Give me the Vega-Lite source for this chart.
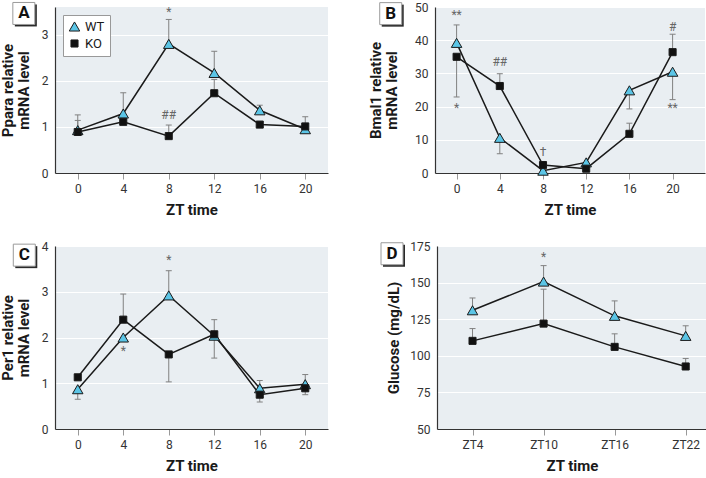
{
  "$schema": "https://vega.github.io/schema/vega-lite/v6.json",
  "padding": 0,
  "background": "white",
  "datasets": {
    "pts": [
      {"p":"A","t":0,"g":"WT","v":0.93,"e":1.26},
      {"p":"A","t":4,"g":"WT","v":1.29,"e":1.74},
      {"p":"A","t":8,"g":"WT","v":2.80,"e":3.33},
      {"p":"A","t":12,"g":"WT","v":2.17,"e":2.64},
      {"p":"A","t":16,"g":"WT","v":1.36,"e":1.47},
      {"p":"A","t":20,"g":"WT","v":0.95,"e":null},
      {"p":"A","t":0,"g":"KO","v":0.89,"e":1.14},
      {"p":"A","t":4,"g":"KO","v":1.11,"e":null},
      {"p":"A","t":8,"g":"KO","v":0.80,"e":1.04},
      {"p":"A","t":12,"g":"KO","v":1.73,"e":2.03},
      {"p":"A","t":16,"g":"KO","v":1.05,"e":null},
      {"p":"A","t":20,"g":"KO","v":1.01,"e":1.22},
      {"p":"B","t":0,"g":"WT","v":39.2,"e":44.6},
      {"p":"B","t":4,"g":"WT","v":10.6,"e":5.8},
      {"p":"B","t":8,"g":"WT","v":0.7,"e":null},
      {"p":"B","t":12,"g":"WT","v":3.2,"e":null},
      {"p":"B","t":16,"g":"WT","v":24.9,"e":19.3},
      {"p":"B","t":20,"g":"WT","v":30.5,"e":22.1},
      {"p":"B","t":0,"g":"KO","v":35.0,"e":22.9},
      {"p":"B","t":4,"g":"KO","v":26.2,"e":29.9},
      {"p":"B","t":8,"g":"KO","v":2.4,"e":null},
      {"p":"B","t":12,"g":"KO","v":1.3,"e":null},
      {"p":"B","t":16,"g":"KO","v":11.8,"e":15.0},
      {"p":"B","t":20,"g":"KO","v":36.4,"e":41.8},
      {"p":"C","t":0,"g":"WT","v":0.87,"e":0.65},
      {"p":"C","t":4,"g":"WT","v":2.0,"e":null},
      {"p":"C","t":8,"g":"WT","v":2.92,"e":3.46},
      {"p":"C","t":12,"g":"WT","v":2.04,"e":1.55},
      {"p":"C","t":16,"g":"WT","v":0.89,"e":1.06},
      {"p":"C","t":20,"g":"WT","v":0.98,"e":1.19},
      {"p":"C","t":0,"g":"KO","v":1.13,"e":null},
      {"p":"C","t":4,"g":"KO","v":2.39,"e":2.95},
      {"p":"C","t":8,"g":"KO","v":1.63,"e":1.03},
      {"p":"C","t":12,"g":"KO","v":2.07,"e":2.39},
      {"p":"C","t":16,"g":"KO","v":0.75,"e":0.59},
      {"p":"C","t":20,"g":"KO","v":0.89,"e":0.75},
      {"p":"D","t":4,"g":"WT","v":131.1,"e":139.5},
      {"p":"D","t":10,"g":"WT","v":150.7,"e":161.6},
      {"p":"D","t":16,"g":"WT","v":127.3,"e":137.5},
      {"p":"D","t":22,"g":"WT","v":113.6,"e":120.5},
      {"p":"D","t":4,"g":"KO","v":110.2,"e":118.6},
      {"p":"D","t":10,"g":"KO","v":122.0,"e":145.5},
      {"p":"D","t":16,"g":"KO","v":106.1,"e":115.0},
      {"p":"D","t":22,"g":"KO","v":92.7,"e":98.2}
    ],
    "ann": [
      {"p":"A","t":8,"y":3.5,"s":"*"},
      {"p":"A","t":8,"y":1.25,"s":"##"},
      {"p":"B","t":0,"y":47.5,"s":"**"},
      {"p":"B","t":0,"y":19.6,"s":"*"},
      {"p":"B","t":4,"y":33.3,"s":"##"},
      {"p":"B","t":8,"y":6.4,"s":"†"},
      {"p":"B","t":20,"y":44.1,"s":"#"},
      {"p":"B","t":20,"y":19.6,"s":"**"},
      {"p":"C","t":8,"y":3.69,"s":"*"},
      {"p":"C","t":4,"y":1.71,"s":"*"},
      {"p":"D","t":10,"y":167.7,"s":"*"}
    ],
    "lab": [
      {"p":"A","t":-4.74,"y":3.46,"s":"A"},
      {"p":"B","t":-6.1,"y":48,"s":"B"},
      {"p":"C","t":-4.7,"y":3.8,"s":"C"},
      {"p":"D","t":-2.8,"y":169.7,"s":"D"}
    ]
  },
  "resolve": {"scale": {"color": "independent", "shape": "independent", "size": "independent"}},
  "spacing": 23,
  "vconcat": [
    {
      "resolve": {"scale": {"color": "independent", "shape": "independent", "size": "independent"}},
      "spacing": 40,
      "hconcat": [
        {
          "width": 273, "height": 166,
          "layer": [
            {"data":{"name":"pts"},"transform":[{"filter":"datum.p=='A' && isValid(datum.e)"}],
             "mark":{"type":"rule","color":"#808080","strokeWidth":1},
             "encoding":{
               "x":{"field":"t","type":"quantitative","scale":{"domain":[-2,22],"nice":false,"zero":false},"axis":{"values":[0,4,8,12,16,20],"title":"ZT time"}},
               "y":{"field":"v","type":"quantitative","scale":{"domain":[0,3.6],"nice":false},"axis":{"values":[0,1,2,3],"title":["Ppara relative","mRNA level"],"minExtent":14,"maxExtent":14,"titlePadding":10}},
               "y2":{"field":"e"}}},
            {"data":{"name":"pts"},"transform":[{"filter":"datum.p=='A' && isValid(datum.e)"}],
             "mark":{"type":"point","shape":"stroke","color":"#808080","strokeWidth":1,"size":36,"opacity":1},
             "encoding":{"x":{"field":"t","type":"quantitative"},"y":{"field":"e","type":"quantitative","axis":{"values":[0,1,2,3],"title":["Ppara relative","mRNA level"],"minExtent":14,"maxExtent":14,"titlePadding":10}}}},
            {"data":{"name":"pts"},"transform":[{"filter":"datum.p=='A'"}],
             "mark":{"type":"line","color":"#1a1a1a","strokeWidth":1.5},
             "encoding":{"x":{"field":"t","type":"quantitative"},"y":{"field":"v","type":"quantitative","axis":{"values":[0,1,2,3],"title":["Ppara relative","mRNA level"],"minExtent":14,"maxExtent":14,"titlePadding":10}},"detail":{"field":"g"}}},
            {"data":{"name":"pts"},"transform":[{"filter":"datum.p=='A'"}],
             "mark":{"type":"point","filled":true,"opacity":1,"stroke":"#1a1a1a","strokeWidth":1},
             "encoding":{"x":{"field":"t","type":"quantitative"},"y":{"field":"v","type":"quantitative","axis":{"values":[0,1,2,3],"title":["Ppara relative","mRNA level"],"minExtent":14,"maxExtent":14,"titlePadding":10}},
               "shape":{"field":"g","type":"nominal","scale":{"domain":["WT","KO"],"range":["triangle-up","square"]},"legend":{"title":null,"orient":"top-left","offset":8}},
               "color":{"field":"g","type":"nominal","scale":{"domain":["WT","KO"],"range":["#5bc5e6","#111111"]},"legend":{"title":null,"orient":"top-left","offset":8}},
               "size":{"field":"g","type":"nominal","scale":{"domain":["WT","KO"],"range":[110,50]},"legend":{"title":null,"orient":"top-left","offset":8}}}},
            {"data":{"name":"ann"},"transform":[{"filter":"datum.p=='A'"}],
             "mark":{"type":"text","fontSize":12,"color":"#666666","baseline":"middle","font":"Roboto"},
             "encoding":{"x":{"field":"t","type":"quantitative"},"y":{"field":"y","type":"quantitative","axis":{"values":[0,1,2,3],"title":["Ppara relative","mRNA level"],"minExtent":14,"maxExtent":14,"titlePadding":10}},"text":{"field":"s"}}},
            {"data":{"name":"lab"},"transform":[{"filter":"datum.p=='A'"}],
             "mark":{"type":"point","shape":"square","filled":true,"color":"#2a2a2a","size":484,"opacity":1,"xOffset":2,"yOffset":2},
             "encoding":{"x":{"field":"t","type":"quantitative"},"y":{"field":"y","type":"quantitative","axis":{"values":[0,1,2,3],"title":["Ppara relative","mRNA level"],"minExtent":14,"maxExtent":14,"titlePadding":10}}}},
            {"data":{"name":"lab"},"transform":[{"filter":"datum.p=='A'"}],
             "mark":{"type":"point","shape":"square","filled":true,"fill":"white","stroke":"#9a9a9a","strokeWidth":1,"size":484,"opacity":1},
             "encoding":{"x":{"field":"t","type":"quantitative"},"y":{"field":"y","type":"quantitative","axis":{"values":[0,1,2,3],"title":["Ppara relative","mRNA level"],"minExtent":14,"maxExtent":14,"titlePadding":10}}}},
            {"data":{"name":"lab"},"transform":[{"filter":"datum.p=='A'"}],
             "mark":{"type":"text","fontSize":17,"fontWeight":"bold","color":"#111111","baseline":"middle","font":"Roboto"},
             "encoding":{"x":{"field":"t","type":"quantitative"},"y":{"field":"y","type":"quantitative","axis":{"values":[0,1,2,3],"title":["Ppara relative","mRNA level"],"minExtent":14,"maxExtent":14,"titlePadding":10}},"text":{"field":"s"}}}
          ]
        },
        {
          "width": 270, "height": 166,
          "layer": [
            {"data":{"name":"pts"},"transform":[{"filter":"datum.p=='B' && isValid(datum.e)"}],
             "mark":{"type":"rule","color":"#808080","strokeWidth":1},
             "encoding":{
               "x":{"field":"t","type":"quantitative","scale":{"domain":[-2,23],"nice":false,"zero":false},"axis":{"values":[0,4,8,12,16,20],"title":"ZT time"}},
               "y":{"field":"v","type":"quantitative","scale":{"domain":[0,50],"nice":false},"axis":{"values":[0,10,20,30,40,50],"title":["Bmal1 relative","mRNA level"],"minExtent":20,"maxExtent":20,"titlePadding":16}},
               "y2":{"field":"e"}}},
            {"data":{"name":"pts"},"transform":[{"filter":"datum.p=='B' && isValid(datum.e)"}],
             "mark":{"type":"point","shape":"stroke","color":"#808080","strokeWidth":1,"size":36,"opacity":1},
             "encoding":{"x":{"field":"t","type":"quantitative"},"y":{"field":"e","type":"quantitative","axis":{"values":[0,10,20,30,40,50],"title":["Bmal1 relative","mRNA level"],"minExtent":20,"maxExtent":20,"titlePadding":16}}}},
            {"data":{"name":"pts"},"transform":[{"filter":"datum.p=='B'"}],
             "mark":{"type":"line","color":"#1a1a1a","strokeWidth":1.5},
             "encoding":{"x":{"field":"t","type":"quantitative"},"y":{"field":"v","type":"quantitative","axis":{"values":[0,10,20,30,40,50],"title":["Bmal1 relative","mRNA level"],"minExtent":20,"maxExtent":20,"titlePadding":16}},"detail":{"field":"g"}}},
            {"data":{"name":"pts"},"transform":[{"filter":"datum.p=='B'"}],
             "mark":{"type":"point","filled":true,"opacity":1,"stroke":"#1a1a1a","strokeWidth":1},
             "encoding":{"x":{"field":"t","type":"quantitative"},"y":{"field":"v","type":"quantitative","axis":{"values":[0,10,20,30,40,50],"title":["Bmal1 relative","mRNA level"],"minExtent":20,"maxExtent":20,"titlePadding":16}},
               "shape":{"field":"g","type":"nominal","scale":{"domain":["WT","KO"],"range":["triangle-up","square"]},"legend":null},
               "color":{"field":"g","type":"nominal","scale":{"domain":["WT","KO"],"range":["#5bc5e6","#111111"]},"legend":null},
               "size":{"field":"g","type":"nominal","scale":{"domain":["WT","KO"],"range":[110,50]},"legend":null}}},
            {"data":{"name":"ann"},"transform":[{"filter":"datum.p=='B'"}],
             "mark":{"type":"text","fontSize":12,"color":"#666666","baseline":"middle","font":"Roboto"},
             "encoding":{"x":{"field":"t","type":"quantitative"},"y":{"field":"y","type":"quantitative","axis":{"values":[0,10,20,30,40,50],"title":["Bmal1 relative","mRNA level"],"minExtent":20,"maxExtent":20,"titlePadding":16}},"text":{"field":"s"}}},
            {"data":{"name":"lab"},"transform":[{"filter":"datum.p=='B'"}],
             "mark":{"type":"point","shape":"square","filled":true,"color":"#2a2a2a","size":484,"opacity":1,"xOffset":2,"yOffset":2},
             "encoding":{"x":{"field":"t","type":"quantitative"},"y":{"field":"y","type":"quantitative","axis":{"values":[0,10,20,30,40,50],"title":["Bmal1 relative","mRNA level"],"minExtent":20,"maxExtent":20,"titlePadding":16}}}},
            {"data":{"name":"lab"},"transform":[{"filter":"datum.p=='B'"}],
             "mark":{"type":"point","shape":"square","filled":true,"fill":"white","stroke":"#9a9a9a","strokeWidth":1,"size":484,"opacity":1},
             "encoding":{"x":{"field":"t","type":"quantitative"},"y":{"field":"y","type":"quantitative","axis":{"values":[0,10,20,30,40,50],"title":["Bmal1 relative","mRNA level"],"minExtent":20,"maxExtent":20,"titlePadding":16}}}},
            {"data":{"name":"lab"},"transform":[{"filter":"datum.p=='B'"}],
             "mark":{"type":"text","fontSize":17,"fontWeight":"bold","color":"#111111","baseline":"middle","font":"Roboto"},
             "encoding":{"x":{"field":"t","type":"quantitative"},"y":{"field":"y","type":"quantitative","axis":{"values":[0,10,20,30,40,50],"title":["Bmal1 relative","mRNA level"],"minExtent":20,"maxExtent":20,"titlePadding":16}},"text":{"field":"s"}}}
          ]
        }
      ]
    },
    {
      "resolve": {"scale": {"color": "independent", "shape": "independent", "size": "independent"}},
      "spacing": 51,
      "hconcat": [
        {
          "width": 273, "height": 183,
          "layer": [
            {"data":{"name":"pts"},"transform":[{"filter":"datum.p=='C' && isValid(datum.e)"}],
             "mark":{"type":"rule","color":"#808080","strokeWidth":1},
             "encoding":{
               "x":{"field":"t","type":"quantitative","scale":{"domain":[-2,22],"nice":false,"zero":false},"axis":{"values":[0,4,8,12,16,20],"title":"ZT time"}},
               "y":{"field":"v","type":"quantitative","scale":{"domain":[0,4],"nice":false},"axis":{"values":[0,1,2,3,4],"title":["Per1 relative","mRNA level"],"minExtent":14,"maxExtent":14,"titlePadding":10}},
               "y2":{"field":"e"}}},
            {"data":{"name":"pts"},"transform":[{"filter":"datum.p=='C' && isValid(datum.e)"}],
             "mark":{"type":"point","shape":"stroke","color":"#808080","strokeWidth":1,"size":36,"opacity":1},
             "encoding":{"x":{"field":"t","type":"quantitative"},"y":{"field":"e","type":"quantitative","axis":{"values":[0,1,2,3,4],"title":["Per1 relative","mRNA level"],"minExtent":14,"maxExtent":14,"titlePadding":10}}}},
            {"data":{"name":"pts"},"transform":[{"filter":"datum.p=='C'"}],
             "mark":{"type":"line","color":"#1a1a1a","strokeWidth":1.5},
             "encoding":{"x":{"field":"t","type":"quantitative"},"y":{"field":"v","type":"quantitative","axis":{"values":[0,1,2,3,4],"title":["Per1 relative","mRNA level"],"minExtent":14,"maxExtent":14,"titlePadding":10}},"detail":{"field":"g"}}},
            {"data":{"name":"pts"},"transform":[{"filter":"datum.p=='C'"}],
             "mark":{"type":"point","filled":true,"opacity":1,"stroke":"#1a1a1a","strokeWidth":1},
             "encoding":{"x":{"field":"t","type":"quantitative"},"y":{"field":"v","type":"quantitative","axis":{"values":[0,1,2,3,4],"title":["Per1 relative","mRNA level"],"minExtent":14,"maxExtent":14,"titlePadding":10}},
               "shape":{"field":"g","type":"nominal","scale":{"domain":["WT","KO"],"range":["triangle-up","square"]},"legend":null},
               "color":{"field":"g","type":"nominal","scale":{"domain":["WT","KO"],"range":["#5bc5e6","#111111"]},"legend":null},
               "size":{"field":"g","type":"nominal","scale":{"domain":["WT","KO"],"range":[110,50]},"legend":null}}},
            {"data":{"name":"ann"},"transform":[{"filter":"datum.p=='C'"}],
             "mark":{"type":"text","fontSize":12,"color":"#666666","baseline":"middle","font":"Roboto"},
             "encoding":{"x":{"field":"t","type":"quantitative"},"y":{"field":"y","type":"quantitative","axis":{"values":[0,1,2,3,4],"title":["Per1 relative","mRNA level"],"minExtent":14,"maxExtent":14,"titlePadding":10}},"text":{"field":"s"}}},
            {"data":{"name":"lab"},"transform":[{"filter":"datum.p=='C'"}],
             "mark":{"type":"point","shape":"square","filled":true,"color":"#2a2a2a","size":484,"opacity":1,"xOffset":2,"yOffset":2},
             "encoding":{"x":{"field":"t","type":"quantitative"},"y":{"field":"y","type":"quantitative","axis":{"values":[0,1,2,3,4],"title":["Per1 relative","mRNA level"],"minExtent":14,"maxExtent":14,"titlePadding":10}}}},
            {"data":{"name":"lab"},"transform":[{"filter":"datum.p=='C'"}],
             "mark":{"type":"point","shape":"square","filled":true,"fill":"white","stroke":"#9a9a9a","strokeWidth":1,"size":484,"opacity":1},
             "encoding":{"x":{"field":"t","type":"quantitative"},"y":{"field":"y","type":"quantitative","axis":{"values":[0,1,2,3,4],"title":["Per1 relative","mRNA level"],"minExtent":14,"maxExtent":14,"titlePadding":10}}}},
            {"data":{"name":"lab"},"transform":[{"filter":"datum.p=='C'"}],
             "mark":{"type":"text","fontSize":17,"fontWeight":"bold","color":"#111111","baseline":"middle","font":"Roboto"},
             "encoding":{"x":{"field":"t","type":"quantitative"},"y":{"field":"y","type":"quantitative","axis":{"values":[0,1,2,3,4],"title":["Per1 relative","mRNA level"],"minExtent":14,"maxExtent":14,"titlePadding":10}},"text":{"field":"s"}}}
          ]
        },
        {
          "width": 270, "height": 183,
          "layer": [
            {"data":{"name":"pts"},"transform":[{"filter":"datum.p=='D' && isValid(datum.e)"}],
             "mark":{"type":"rule","color":"#808080","strokeWidth":1},
             "encoding":{
               "x":{"field":"t","type":"quantitative","scale":{"domain":[1,23.8],"nice":false,"zero":false},"axis":{"values":[4,10,16,22],"labelExpr":"'ZT' + datum.value","title":"ZT time"}},
               "y":{"field":"v","type":"quantitative","scale":{"domain":[50,175],"nice":false,"zero":false},"axis":{"values":[50,75,100,125,150,175],"title":"Glucose (mg/dL)","minExtent":26,"maxExtent":26,"titlePadding":10}},
               "y2":{"field":"e"}}},
            {"data":{"name":"pts"},"transform":[{"filter":"datum.p=='D' && isValid(datum.e)"}],
             "mark":{"type":"point","shape":"stroke","color":"#808080","strokeWidth":1,"size":36,"opacity":1},
             "encoding":{"x":{"field":"t","type":"quantitative"},"y":{"field":"e","type":"quantitative","axis":{"values":[50,75,100,125,150,175],"title":"Glucose (mg/dL)","minExtent":26,"maxExtent":26,"titlePadding":10}}}},
            {"data":{"name":"pts"},"transform":[{"filter":"datum.p=='D'"}],
             "mark":{"type":"line","color":"#1a1a1a","strokeWidth":1.5},
             "encoding":{"x":{"field":"t","type":"quantitative"},"y":{"field":"v","type":"quantitative","axis":{"values":[50,75,100,125,150,175],"title":"Glucose (mg/dL)","minExtent":26,"maxExtent":26,"titlePadding":10}},"detail":{"field":"g"}}},
            {"data":{"name":"pts"},"transform":[{"filter":"datum.p=='D'"}],
             "mark":{"type":"point","filled":true,"opacity":1,"stroke":"#1a1a1a","strokeWidth":1},
             "encoding":{"x":{"field":"t","type":"quantitative"},"y":{"field":"v","type":"quantitative","axis":{"values":[50,75,100,125,150,175],"title":"Glucose (mg/dL)","minExtent":26,"maxExtent":26,"titlePadding":10}},
               "shape":{"field":"g","type":"nominal","scale":{"domain":["WT","KO"],"range":["triangle-up","square"]},"legend":null},
               "color":{"field":"g","type":"nominal","scale":{"domain":["WT","KO"],"range":["#5bc5e6","#111111"]},"legend":null},
               "size":{"field":"g","type":"nominal","scale":{"domain":["WT","KO"],"range":[110,50]},"legend":null}}},
            {"data":{"name":"ann"},"transform":[{"filter":"datum.p=='D'"}],
             "mark":{"type":"text","fontSize":12,"color":"#666666","baseline":"middle","font":"Roboto"},
             "encoding":{"x":{"field":"t","type":"quantitative"},"y":{"field":"y","type":"quantitative","axis":{"values":[50,75,100,125,150,175],"title":"Glucose (mg/dL)","minExtent":26,"maxExtent":26,"titlePadding":10}},"text":{"field":"s"}}},
            {"data":{"name":"lab"},"transform":[{"filter":"datum.p=='D'"}],
             "mark":{"type":"point","shape":"square","filled":true,"color":"#2a2a2a","size":484,"opacity":1,"xOffset":2,"yOffset":2},
             "encoding":{"x":{"field":"t","type":"quantitative"},"y":{"field":"y","type":"quantitative","axis":{"values":[50,75,100,125,150,175],"title":"Glucose (mg/dL)","minExtent":26,"maxExtent":26,"titlePadding":10}}}},
            {"data":{"name":"lab"},"transform":[{"filter":"datum.p=='D'"}],
             "mark":{"type":"point","shape":"square","filled":true,"fill":"white","stroke":"#9a9a9a","strokeWidth":1,"size":484,"opacity":1},
             "encoding":{"x":{"field":"t","type":"quantitative"},"y":{"field":"y","type":"quantitative","axis":{"values":[50,75,100,125,150,175],"title":"Glucose (mg/dL)","minExtent":26,"maxExtent":26,"titlePadding":10}}}},
            {"data":{"name":"lab"},"transform":[{"filter":"datum.p=='D'"}],
             "mark":{"type":"text","fontSize":17,"fontWeight":"bold","color":"#111111","baseline":"middle","font":"Roboto"},
             "encoding":{"x":{"field":"t","type":"quantitative"},"y":{"field":"y","type":"quantitative","axis":{"values":[50,75,100,125,150,175],"title":"Glucose (mg/dL)","minExtent":26,"maxExtent":26,"titlePadding":10}},"text":{"field":"s"}}}
          ]
        }
      ]
    }
  ],
  "config": {
    "font": "Roboto",
    "view": {"fill": "#e9eef2", "stroke": null},
    "axis": {"labelFont": "Roboto", "labelFontSize": 12, "labelColor": "#333333", "titleFont": "Roboto", "titleFontSize": 15, "titleFontWeight": "bold", "titleColor": "#1a1a1a", "titleLineHeight": 16, "domainColor": "#333333", "domainWidth": 1.2, "gridColor": "#ffffff", "gridWidth": 1.2},
    "axisX": {"grid": false, "tickColor": "#999999", "tickSize": 6, "labelPadding": 4, "titlePadding": 8},
    "axisY": {"grid": true, "ticks": false, "labelPadding": 7},
    "legend": {"fillColor": "white", "strokeColor": "#999999", "padding": 5, "rowPadding": 3, "labelFont": "Roboto", "labelFontSize": 13, "labelColor": "#1a1a1a", "symbolStrokeWidth": 1}
  }
}
